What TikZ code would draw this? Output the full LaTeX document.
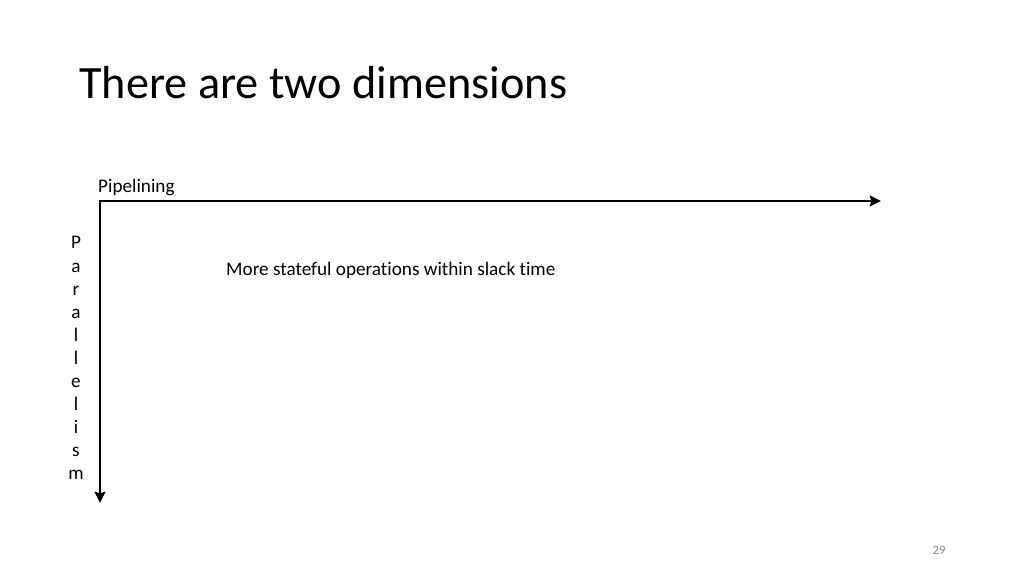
\documentclass[tikz,border=0pt]{standalone}
\usepackage{fontspec}
\setmainfont{Carlito}[Ligatures=NoCommon]
\usetikzlibrary{positioning,arrows.meta}

\begin{document}
\begin{tikzpicture}[x=0.9375pt, y=-0.9375pt, font=\fontsize{18}{21}\selectfont]

		\def\W{1024} % Width of the slide

		\def\H{576} % Height of the slide

		% Define colors

		\definecolor{slideGray}{RGB}{137,137,137}

		% Fix the slide area

		\useasboundingbox[fill=white] (0,0) rectangle (\W,\H);

		% Title

		\node[anchor=base west, inner sep=0pt, font=\fontsize{43.4}{52}\selectfont] (title) at (79,99) {There are two dimensions};

		% Corner and ends of the two axes

		\coordinate (origin) at (100,201);

		\coordinate (pipeEnd) at (881,201);

		\coordinate (paraEnd) at (100,503);

		% Draw the two axes

		\draw[line width=2.6pt, -{Stealth[length=10.5pt, width=10pt, inset=1.5pt]}] ([xshift=-1.3pt]origin) -- (pipeEnd);

		\draw[line width=2.6pt, -{Stealth[length=10.5pt, width=10pt, inset=1.5pt]}] (origin) -- (paraEnd);

		% Axis labels

		\node[anchor=base west, inner sep=0pt] (pipeLabel) at (98,192) {Pipelining};

		\node[align=center, inner sep=0pt, font=\fontsize{18}{21.6}\selectfont] (paraLabel) at (76,358) {P\\a\\r\\a\\l\\l\\e\\l\\i\\s\\m};

		% Text inside the axes

		\node[anchor=base west, inner sep=0pt] (stateText) at (226,275) {More stateful operations within slack time};

		% Slide number

		\node[anchor=base, inner sep=0pt, text=slideGray, font=\fontsize{12}{14}\selectfont] (pageNum) at (939,554) {29};

	\end{tikzpicture}
\end{document}
